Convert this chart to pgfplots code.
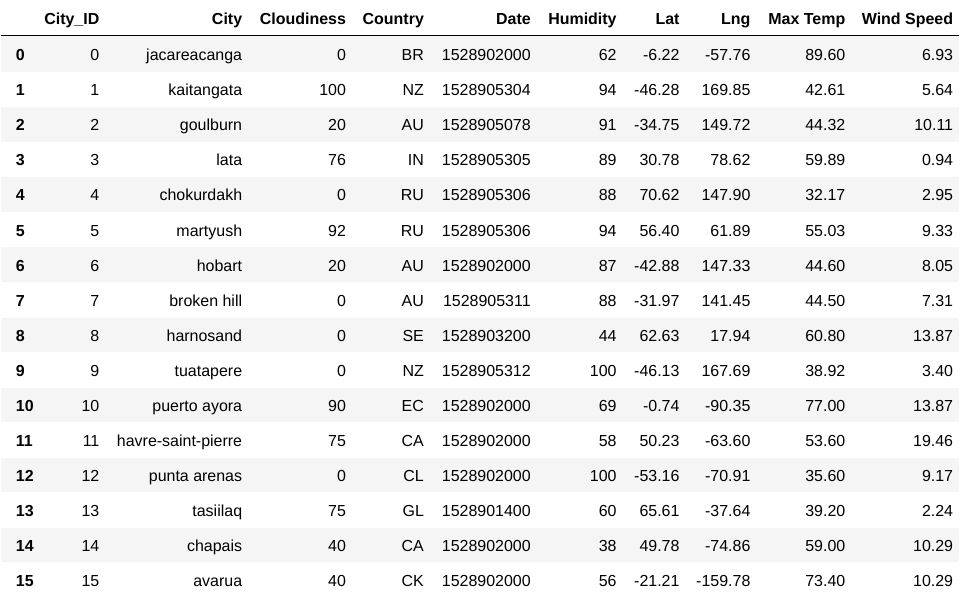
\documentclass[border=0pt]{standalone}
\usepackage{pgfplots}
\usepackage{pgfplotstable}
\pgfplotsset{compat=1.18}
\usepackage{fontspec}
\setmainfont{Liberation Sans}
\definecolor{stripe}{HTML}{F5F5F5}
\newcommand\tf{\fontsize{16bp}{19bp}\selectfont}
\pgfplotstableread[col sep=comma]{
id,city,cloud,country,date,hum,lat,lng,tmax,wind
0,jacareacanga,0,BR,1528902000,62,-6.22,-57.76,89.60,6.93
1,kaitangata,100,NZ,1528905304,94,-46.28,169.85,42.61,5.64
2,goulburn,20,AU,1528905078,91,-34.75,149.72,44.32,10.11
3,lata,76,IN,1528905305,89,30.78,78.62,59.89,0.94
4,chokurdakh,0,RU,1528905306,88,70.62,147.90,32.17,2.95
5,martyush,92,RU,1528905306,94,56.40,61.89,55.03,9.33
6,hobart,20,AU,1528902000,87,-42.88,147.33,44.60,8.05
7,broken hill,0,AU,1528905311,88,-31.97,141.45,44.50,7.31
8,harnosand,0,SE,1528903200,44,62.63,17.94,60.80,13.87
9,tuatapere,0,NZ,1528905312,100,-46.13,167.69,38.92,3.40
10,puerto ayora,90,EC,1528902000,69,-0.74,-90.35,77.00,13.87
11,havre-saint-pierre,75,CA,1528902000,58,50.23,-63.60,53.60,19.46
12,punta arenas,0,CL,1528902000,100,-53.16,-70.91,35.60,9.17
13,tasiilaq,75,GL,1528901400,60,65.61,-37.64,39.20,2.24
14,chapais,40,CA,1528902000,38,49.78,-74.86,59.00,10.29
15,avarua,40,CK,1528902000,56,-21.21,-159.78,73.40,10.29
}\data
\pgfplotsset{
  cell/.style={draw=none, mark=none, nodes near coords, point meta=explicit symbolic,
    every node near coord/.append style={anchor=base east, inner sep=0pt, font=\tf, text=black}},
}
\begin{document}
\begin{tikzpicture}
\begin{axis}[
  scale only axis, width=960bp, height=598bp,
  xmin=0, xmax=960, ymin=0, ymax=598, y dir=reverse,
  hide axis, clip=false,
]
% background
\addplot[fill=white, draw=none] coordinates {(0,0) (960,0) (960,598) (0,598)};
% stripes (even rows)
\addplot[fill=stripe, draw=none] coordinates {(0,36) (960,36) (960,72.5) (0,72.5)};
\addplot[fill=stripe, draw=none] coordinates {(0,107.6) (960,107.6) (960,142.6) (0,142.6)};
\addplot[fill=stripe, draw=none] coordinates {(0,177.7) (960,177.7) (960,212.7) (0,212.7)};
\addplot[fill=stripe, draw=none] coordinates {(0,247.8) (960,247.8) (960,282.8) (0,282.8)};
\addplot[fill=stripe, draw=none] coordinates {(0,318.0) (960,318.0) (960,353.0) (0,353.0)};
\addplot[fill=stripe, draw=none] coordinates {(0,388.1) (960,388.1) (960,423.1) (0,423.1)};
\addplot[fill=stripe, draw=none] coordinates {(0,458.2) (960,458.2) (960,493.2) (0,493.2)};
\addplot[fill=stripe, draw=none] coordinates {(0,528.3) (960,528.3) (960,563.3) (0,563.3)};
% header rule
\addplot[black, line width=1.4bp] coordinates {(0,35.3) (960,35.3)};
% header
\addplot[cell, every node near coord/.append style={font=\tf\bfseries}] coordinates {
  (99,24.5) [City\_ID] (242,24.5) [City] (346,24.5) [Cloudiness] (424,24.5) [Country]
  (531,24.5) [Date] (617,24.5) [Humidity] (680,24.5) [Lat] (751,24.5) [Lng]
  (846,24.5) [Max Temp] (954,24.5) [Wind Speed]};
% index column
\addplot[cell, every node near coord/.append style={anchor=base west, font=\tf\bfseries}]
  table[x expr=15, y expr=61+35.07*\coordindex, meta=id] {\data};
% data columns
\addplot[cell] table[x expr=99, y expr=61+35.07*\coordindex, meta=id] {\data};
\addplot[cell] table[x expr=242, y expr=61+35.07*\coordindex, meta=city] {\data};
\addplot[cell] table[x expr=346, y expr=61+35.07*\coordindex, meta=cloud] {\data};
\addplot[cell] table[x expr=424, y expr=61+35.07*\coordindex, meta=country] {\data};
\addplot[cell] table[x expr=531, y expr=61+35.07*\coordindex, meta=date] {\data};
\addplot[cell] table[x expr=617, y expr=61+35.07*\coordindex, meta=hum] {\data};
\addplot[cell] table[x expr=680, y expr=61+35.07*\coordindex, meta=lat] {\data};
\addplot[cell] table[x expr=751, y expr=61+35.07*\coordindex, meta=lng] {\data};
\addplot[cell] table[x expr=846, y expr=61+35.07*\coordindex, meta=tmax] {\data};
\addplot[cell] table[x expr=954, y expr=61+35.07*\coordindex, meta=wind] {\data};
\end{axis}
\end{tikzpicture}
\end{document}
